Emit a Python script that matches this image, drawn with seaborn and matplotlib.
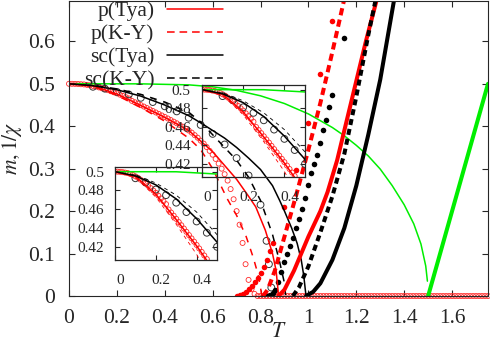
import numpy as np
import pandas as pd
import seaborn as sns
import matplotlib.pyplot as plt
import matplotlib as mpl
from matplotlib.lines import Line2D
from matplotlib.transforms import ScaledTranslation

# ---- magnetisation m(T), thin lines ----
t_p_tya = [0, 0.1, 0.2, 0.3, 0.4, 0.5, 0.6, 0.7, 0.75, 0.78, 0.82, 0.85, 0.865, 0.872, 0.875]
m_p_tya = [0.5, 0.495, 0.476, 0.449, 0.421, 0.39, 0.34, 0.275, 0.235, 0.21, 0.155, 0.1, 0.06, 0.02, 0.0]

t_p_ky = [0, 0.1, 0.2, 0.3, 0.4, 0.5, 0.55, 0.6, 0.66, 0.7, 0.74, 0.77, 0.79, 0.8, 0.805]
m_p_ky = [0.5, 0.494, 0.473, 0.444, 0.412, 0.372, 0.345, 0.3, 0.23, 0.19, 0.14, 0.09, 0.05, 0.02, 0.0]

t_sc_tya = [0, 0.1, 0.2, 0.3, 0.4, 0.5, 0.55, 0.6, 0.65, 0.7, 0.75, 0.8, 0.85, 0.88, 0.9, 0.93, 0.953, 0.97, 0.98, 0.99]
m_sc_tya = [0.5, 0.4955, 0.486, 0.471, 0.45, 0.425, 0.408, 0.39, 0.372, 0.35, 0.325, 0.298, 0.26, 0.225,
            0.2, 0.16, 0.124, 0.085, 0.05, 0.0]

t_sc_ky = [0, 0.1, 0.2, 0.3, 0.4, 0.5, 0.55, 0.6, 0.65, 0.7, 0.75, 0.8, 0.85, 0.88, 0.9, 0.905]
m_sc_ky = [0.5, 0.4965, 0.488, 0.475, 0.457, 0.433, 0.41, 0.38, 0.35, 0.32, 0.28, 0.225, 0.145, 0.08, 0.03, 0.0]

t_green = [0, 0.3, 0.5, 0.6, 0.7, 0.8, 0.9, 1.0, 1.1, 1.15, 1.2, 1.25, 1.3, 1.35, 1.4, 1.44, 1.47, 1.49, 1.497]
m_green = [0.5, 0.4999, 0.4975, 0.493, 0.4845, 0.4717, 0.4535, 0.429, 0.397, 0.3775, 0.355, 0.33, 0.299,
           0.26, 0.215, 0.17, 0.1225, 0.0707, 0.035]

# ---- inverse susceptibility 1/chi(T), thick lines ----
t_chi_green = [1.5, 1.75]
c_chi_green = [0.0, 0.5]

t_chi_p_tya = [0.875, 0.9, 0.94, 1.0, 1.05, 1.08, 1.12, 1.18, 1.24, 1.3]
c_chi_p_tya = [0.0, 0.015, 0.06, 0.14, 0.2, 0.245, 0.32, 0.46, 0.6, 0.73]

t_chi_p_ky = [0.81, 0.83, 0.86, 0.9, 0.95, 1.0, 1.05, 1.1, 1.15, 1.2]
c_chi_p_ky = [0.0, 0.015, 0.06, 0.14, 0.24, 0.345, 0.455, 0.575, 0.7, 0.82]

t_chi_sc_tya = [0.99, 1.02, 1.05, 1.1, 1.15, 1.2, 1.25, 1.3, 1.357, 1.4]
c_chi_sc_tya = [0.0, 0.01, 0.03, 0.085, 0.16, 0.26, 0.38, 0.51, 0.695, 0.82]

t_chi_sc_ky = [0.935, 0.96, 1.0, 1.05, 1.1, 1.15, 1.2, 1.25, 1.3]
c_chi_sc_ky = [0.0, 0.02, 0.07, 0.15, 0.235, 0.335, 0.47, 0.615, 0.75]

# ---- simulation points ----
# p lattice, m (open red circles), sampled every 0.0125 in T
t_p_circ = np.round(np.arange(0, 1.7501, 0.0125), 4)
m_p_circ = [0.5, 0.5, 0.4998, 0.4995, 0.499, 0.4985, 0.4975, 0.4965, 0.495, 0.4935,
            0.4915, 0.4895, 0.4875, 0.485, 0.4825, 0.48, 0.4775, 0.4745, 0.4715, 0.4685,
            0.4655, 0.4598, 0.4565, 0.4532, 0.4498, 0.4464, 0.443, 0.4395, 0.436, 0.4325,
            0.429, 0.4255, 0.422, 0.4183, 0.4146, 0.4108, 0.407, 0.403, 0.399, 0.3945,
            0.39, 0.385, 0.379, 0.373, 0.366, 0.359, 0.351, 0.342, 0.333, 0.323,
            0.312, 0.3, 0.287, 0.272, 0.252, 0.228, 0.2, 0.168, 0.125, 0.075,
            0.038, 0.016, 0.005] + [0.0] * 78

# sc lattice, m (open black circles)
t_sc_circ = [0.1, 0.15, 0.2, 0.25, 0.3, 0.35, 0.4, 0.45, 0.5, 0.55, 0.6, 0.65, 0.7, 0.75, 0.8, 0.825, 0.835, 0.845]
m_sc_circ = [0.493, 0.4885, 0.481, 0.475, 0.467, 0.457, 0.447, 0.435, 0.42, 0.403, 0.382, 0.357, 0.325,
             0.284, 0.215, 0.13, 0.075, 0.02]

# p lattice, 1/chi (filled red dots)
t_p_dot = [0.7, 0.7125, 0.725, 0.7375, 0.75, 0.7625, 0.775, 0.7875, 0.8, 0.8125, 0.825, 0.8375, 0.85,
           0.9, 0.95, 1.0, 1.05, 1.1]
c_p_dot = [0.0, 0.002, 0.005, 0.01, 0.016, 0.024, 0.033, 0.043, 0.055, 0.068, 0.085, 0.105, 0.125,
           0.21, 0.297, 0.407, 0.524, 0.648]

# sc lattice, 1/chi (filled black dots)
t_sc_dot = [0.8125, 0.825, 0.8375, 0.85, 0.8625, 0.875, 0.8875, 0.9, 0.9125, 0.925, 0.9375, 0.95,
            0.9625, 0.975, 0.9875, 1.0, 1.0125, 1.025, 1.0375, 1.05, 1.0625, 1.075, 1.0875, 1.1, 1.15]
c_sc_dot = [0.0, 0.001, 0.003, 0.007, 0.014, 0.034, 0.056, 0.08, 0.1, 0.118, 0.137, 0.16,
            0.182, 0.205, 0.23, 0.262, 0.29, 0.31, 0.333, 0.36, 0.39, 0.415, 0.445, 0.473, 0.607]

legend_labels = ['p(Tya)', 'p(K-Y)', 'sc(Tya)', 'sc(K-Y)']

sns.set_style('ticks')
plt.rcParams['font.family'] = ['Liberation Serif', 'DejaVu Serif']
plt.rcParams['mathtext.fontset'] = 'stix'
plt.rcParams['axes.linewidth'] = 0.8

RED = '#ff0000'
GREEN = '#00ee00'
thin = 1.1
thick = 2.9
thin_dash = (0, (4.5, 4.5))


def line(a, x, y, color, lw, ls='-'):
    sns.lineplot(x=x, y=y, ax=a, color=color, lw=lw, linestyle=ls, sort=False, estimator=None)


def draw_m(a, inset=False):
    line(a, t_green, m_green, GREEN, 1.1)
    sns.scatterplot(x=t_p_circ, y=m_p_circ, ax=a, marker='o', s=13, facecolor='none',
                    edgecolor='#ff2a2a', linewidth=0.6, clip_on=inset)
    sns.scatterplot(x=t_sc_circ, y=m_sc_circ, ax=a, marker='o', s=24, facecolor='none',
                    edgecolor='#333333', linewidth=0.7)
    lw_d = 0.6 if inset else thin
    line(a, t_p_ky, m_p_ky, RED, lw_d, thin_dash)
    line(a, t_sc_ky, m_sc_ky, 'black', lw_d, thin_dash)
    line(a, t_p_tya, m_p_tya, RED, thin)
    line(a, t_sc_tya, m_sc_tya, 'black', thin)


fig = plt.figure(figsize=(4.9, 3.45), dpi=100)
ax = fig.add_axes([0.1408, 0.142, 0.8551, 0.855])

draw_m(ax)
line(ax, t_chi_green, c_chi_green, GREEN, thick)
line(ax, t_chi_p_ky, c_chi_p_ky, RED, thick, (0, (1.8, 1.1)))
line(ax, t_chi_p_tya, c_chi_p_tya, RED, thick)
line(ax, t_chi_sc_ky, c_chi_sc_ky, 'black', thick, (0, (1.5, 1.0)))
line(ax, t_chi_sc_tya, c_chi_sc_tya, 'black', thick)
sns.scatterplot(x=t_p_dot, y=c_p_dot, ax=ax, marker='o', s=16, color=RED, linewidth=0)
sns.scatterplot(x=t_sc_dot, y=c_sc_dot, ax=ax, marker='o', s=16, color='black', linewidth=0)

ax.set_xlim(0, 1.75)
ax.set_ylim(0, 0.695)
ax.set_xticks([0, 0.2, 0.4, 0.6, 0.8, 1.0, 1.2, 1.4, 1.6])
ax.set_xticklabels(['0', '0.2', '0.4', '0.6', '0.8', '1', '1.2', '1.4', '1.6'])
ax.set_yticks([0, 0.1, 0.2, 0.3, 0.4, 0.5, 0.6])
ax.set_yticklabels(['0', '0.1', '0.2', '0.3', '0.4', '0.5', '0.6'])
ax.tick_params(direction='in', length=4.5, width=0.8, top=True, right=True, labelsize=15.5)
ax.tick_params(axis='x', pad=9)
ax.tick_params(axis='y', pad=10)
ax.set_xlabel(r'$T$', fontsize=15.5, labelpad=-3)
ax.set_ylabel(r'$m,1/\chi$', fontsize=15.5, labelpad=3)

handles = [Line2D([], [], color=RED, lw=thin),
           Line2D([], [], color=RED, lw=thin, ls=(0, (5, 3.2))),
           Line2D([], [], color='black', lw=thin),
           Line2D([], [], color='black', lw=thin, ls=(0, (5, 3.2)))]
ax.legend(handles, legend_labels, loc='upper right', bbox_to_anchor=(0.368, 1.0), frameon=False,
          markerfirst=False, fontsize=15.5, handlelength=2.6, handletextpad=0.6,
          labelspacing=0.14, borderpad=0.0, borderaxespad=0)

# insets: (T, m) zoom of the low temperature region, transparent like the original
up_pos = [0.4122, 0.4870, 0.2102, 0.2667]
lo_pos = [0.2347, 0.2464, 0.2082, 0.2696]

shift = ScaledTranslation(4 / 72, 0, fig.dpi_scale_trans)
for pos in (lo_pos, up_pos):
    a = fig.add_axes(pos)
    a.set_facecolor('none')
    draw_m(a, inset=True)
    a.set_xlim(0, 0.5)
    a.set_ylim(0.406, 0.505)
    a.set_xticks([0, 0.2, 0.4])
    a.set_xticklabels(['0', '0.2', '0.4'])
    a.set_yticks([0.42, 0.44, 0.46, 0.48, 0.5])
    a.set_yticklabels(['0.42', '0.44', '0.46', '0.48', '0.5'])
    a.tick_params(direction='in', length=3.5, width=0.8, top=True, right=True, labelsize=11)
    a.tick_params(axis='x', pad=10)
    a.tick_params(axis='y', pad=8)
    for lab in a.get_xticklabels():
        lab.set_transform(lab.get_transform() + shift)
    a.set_xlabel('')
    a.set_ylabel('')
    for s in a.spines.values():
        s.set_linewidth(0.9)

fig.savefig('out.png', dpi=100)
